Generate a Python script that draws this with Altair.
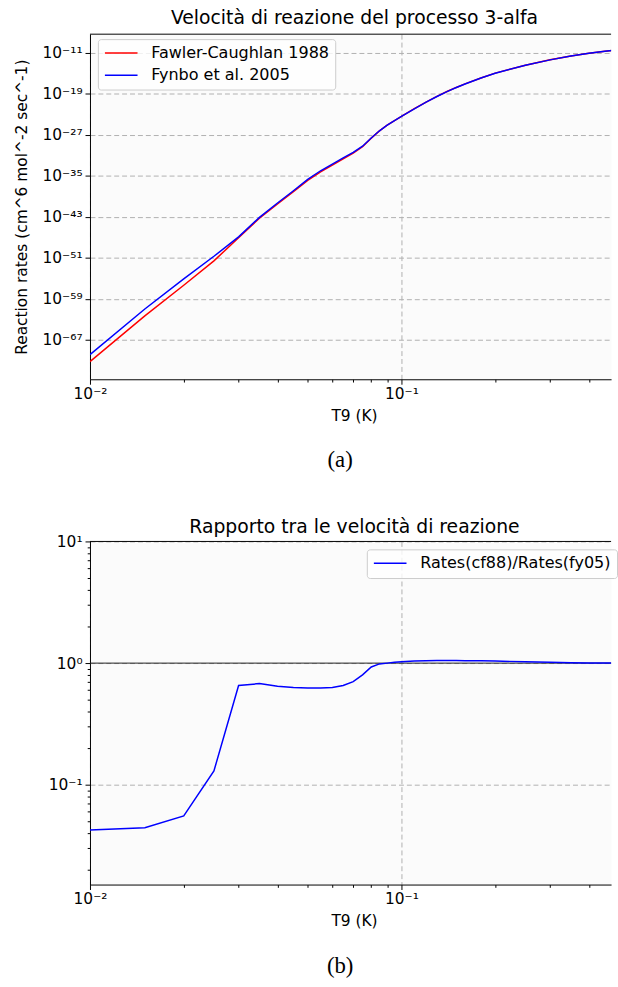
import altair as alt
import pandas as pd

# Temperature grid, T9 = T / 10^9 K
t9 = [0.010, 0.015, 0.020, 0.025, 0.030, 0.035, 0.040, 0.045, 0.050, 0.055,
      0.060, 0.065, 0.070, 0.075, 0.080, 0.085, 0.090, 0.095, 0.100, 0.11,
      0.12, 0.13, 0.14, 0.15, 0.16, 0.18, 0.20, 0.25, 0.30, 0.35, 0.40, 0.45, 0.50]

# log10 of the 3-alpha rate N_A^2 <sigma v> (cm^6 mol^-2 s^-1)
fy05_log10 = [-69.90, -61.00, -55.10, -50.70, -46.90, -43.10, -40.30, -37.90, -35.70, -34.00,
              -32.70, -31.50, -30.40, -29.20, -27.60, -26.20, -25.10, -24.20, -23.40, -21.90,
              -20.60, -19.50, -18.55, -17.75, -17.05, -15.90, -14.95, -13.40, -12.35, -11.60,
              -11.05, -10.65, -10.35]
cf88_log10 = [-71.27, -62.35, -56.36, -51.59, -47.08, -43.27, -40.49, -38.10, -35.90, -34.20,
              -32.90, -31.68, -30.55, -29.30, -27.63, -26.21, -25.10, -24.19, -23.39, -21.88,
              -20.58, -19.48, -18.53, -17.73, -17.03, -15.88, -14.93, -13.39, -12.34, -11.60,
              -11.05, -10.65, -10.35]

# Rates(cf88) / Rates(fy05)
ratio = [0.0425, 0.0444, 0.0555, 0.130, 0.654, 0.679, 0.645, 0.630, 0.625, 0.625,
         0.630, 0.655, 0.705, 0.800, 0.930, 0.985, 1.000, 1.015, 1.025, 1.040,
         1.045, 1.050, 1.050, 1.050, 1.048, 1.045, 1.040, 1.025, 1.015, 1.008,
         1.004, 1.002, 1.001]

LBL_CF88 = "Fawler-Caughlan 1988"
LBL_FY05 = "Fynbo et al. 2005"
LBL_RATIO = "Rates(cf88)/Rates(fy05)"

rates = pd.DataFrame({
    "T9": t9 * 2,
    "series": [LBL_CF88] * len(t9) + [LBL_FY05] * len(t9),
    "rate": [10.0 ** e for e in cf88_log10] + [10.0 ** e for e in fy05_log10],
})
ratios = pd.DataFrame({"T9": t9, "series": [LBL_RATIO] * len(t9), "ratio": ratio})
one_row = pd.DataFrame({"k": [0]})

W = 527
H1 = 349
H2 = 347
FONT = "DejaVu Sans"
FS = 15.6

SUP = str.maketrans("-0123456789", "\u207b\u2070\u00b9\u00b2\u00b3\u2074\u2075\u2076\u2077\u2078\u2079")
LOG10 = "log(datum.value) / LN10"


def pow10_labels(exps):
    parts = [f"abs({LOG10} - ({x})) < 0.000001 ? '10{str(x).translate(SUP)}'" for x in exps]
    return " : ".join(parts) + " : ''"


IS_MAJOR = f"abs({LOG10} - round({LOG10})) < 0.000001"
MAJOR_TICK = {"condition": {"test": IS_MAJOR, "value": 5}, "value": 2.8}
MAJOR_GRID = {"condition": {"test": IS_MAJOR, "value": 1}, "value": 0}

x_ticks = [0.01, 0.02, 0.03, 0.04, 0.05, 0.06, 0.07, 0.08, 0.09, 0.1, 0.2, 0.3, 0.4]


def x_enc():
    return alt.X(
        "T9:Q",
        scale=alt.Scale(type="log", domain=[0.01, 0.471], nice=False),
        axis=alt.Axis(values=x_ticks, labelExpr=pow10_labels([-2, -1]),
                      tickSize=MAJOR_TICK, gridOpacity=MAJOR_GRID,
                      title="T9 (K)", titleX=267, titlePadding=7, labelPadding=2),
    )


def title(text, offset):
    return alt.TitleParams(text, font=FONT, fontSize=19, fontWeight="normal",
                           color="black", dx=4, offset=offset)


def legend(x, y):
    # a short horizontal line as the legend key
    return alt.Legend(title=None, orient="none", legendX=x, legendY=y,
                      symbolType="M-1,0H3.714", symbolSize=196, symbolStrokeWidth=1.5,
                      labelFont=FONT, labelFontSize=16.2, labelColor="black",
                      labelOffset=31.7, labelLimit=400, padding=6, rowPadding=5.5,
                      fillColor="rgba(255,255,255,0.8)", strokeColor="#cccccc",
                      cornerRadius=3)


def frame_top():
    return alt.Chart(one_row).mark_rule(color="black", strokeWidth=1).encode(
        x=alt.value(0), x2=alt.value(W), y=alt.value(0))


def caption(text, dy):
    return alt.Chart(one_row).mark_text(
        text=text, font="Liberation Serif", fontSize=23, color="black",
        baseline="middle", align="center").encode(x=alt.value(253), y=alt.value(dy))


# --- (a) reaction rates ---------------------------------------------------
y_top_exps = [-11, -19, -27, -35, -43, -51, -59, -67]
rate_color = alt.Color("series:N",
                       scale=alt.Scale(domain=[LBL_CF88, LBL_FY05], range=["#ff0000", "#0000ff"]),
                       legend=legend(8, 5))
y_rate = alt.Y("rate:Q",
               scale=alt.Scale(type="log", domain=[10 ** -74.72, 10 ** -7.33], nice=False),
               axis=alt.Axis(values=[10.0 ** e for e in y_top_exps],
                             labelExpr=pow10_labels(y_top_exps), tickSize=5,
                             title="Reaction rates (cm^6 mol^-2 sec^-1)", titlePadding=13))

lines = [
    alt.Chart(rates).transform_filter(alt.datum.series == name)
    .mark_line(strokeWidth=1.5, clip=True)
    .encode(x=x_enc(), y=y_rate, color=rate_color)
    for name in (LBL_CF88, LBL_FY05)
]
top = alt.layer(*lines, frame_top(), caption("(a)", H1 + 82)).properties(
    width=W, height=H1, title=title("Velocità di reazione del processo 3-alfa", 6))

# --- (b) ratio of the two rates -------------------------------------------
y_bot_ticks = ([0.02, 0.03, 0.04, 0.05, 0.06, 0.07, 0.08, 0.09, 0.1,
                0.2, 0.3, 0.4, 0.5, 0.6, 0.7, 0.8, 0.9, 1,
                2, 3, 4, 5, 6, 7, 8, 9, 10])
ratio_scale = alt.Scale(type="log", domain=[0.01514, 10], nice=False)
y_ratio = alt.Y("ratio:Q", scale=ratio_scale,
                axis=alt.Axis(values=y_bot_ticks, labelExpr=pow10_labels([1, 0, -1]),
                              tickSize=MAJOR_TICK, gridOpacity=MAJOR_GRID, title=None))

unity = alt.Chart(pd.DataFrame({"ratio": [1.0]})).mark_rule(color="#222222", strokeWidth=1).encode(
    y=alt.Y("ratio:Q", scale=ratio_scale))
ratio_line = alt.Chart(ratios).mark_line(strokeWidth=1.5, clip=True).encode(
    x=x_enc(), y=y_ratio,
    color=alt.Color("series:N", scale=alt.Scale(domain=[LBL_RATIO], range=["#0000ff"]),
                    legend=legend(280, 8)))
bottom = alt.layer(unity, ratio_line, frame_top(), caption("(b)", H2 + 82)).properties(
    width=W, height=H2, title=title("Rapporto tra le velocità di reazione", -2))

chart = (
    alt.vconcat(top, bottom, spacing=44)
    .resolve_scale(color="independent")
    .properties(padding={"left": 13, "top": 3, "right": 0, "bottom": 0})
    .configure_view(stroke="transparent", fill="#fbfbfb")
    .configure_axis(labelFont=FONT, labelFontSize=FS, labelColor="black",
                    titleFont=FONT, titleFontSize=FS, titleFontWeight="normal",
                    titleColor="black", domainColor="black", domainWidth=1,
                    tickColor="black", tickWidth=1, gridColor="#b0b0b0",
                    gridDash=[5, 3], gridWidth=1, labelPadding=3,
                    labelFlush=False, labelOverlap=False)
)

chart.save("out.html", embed_options={"renderer": "svg", "actions": False})
